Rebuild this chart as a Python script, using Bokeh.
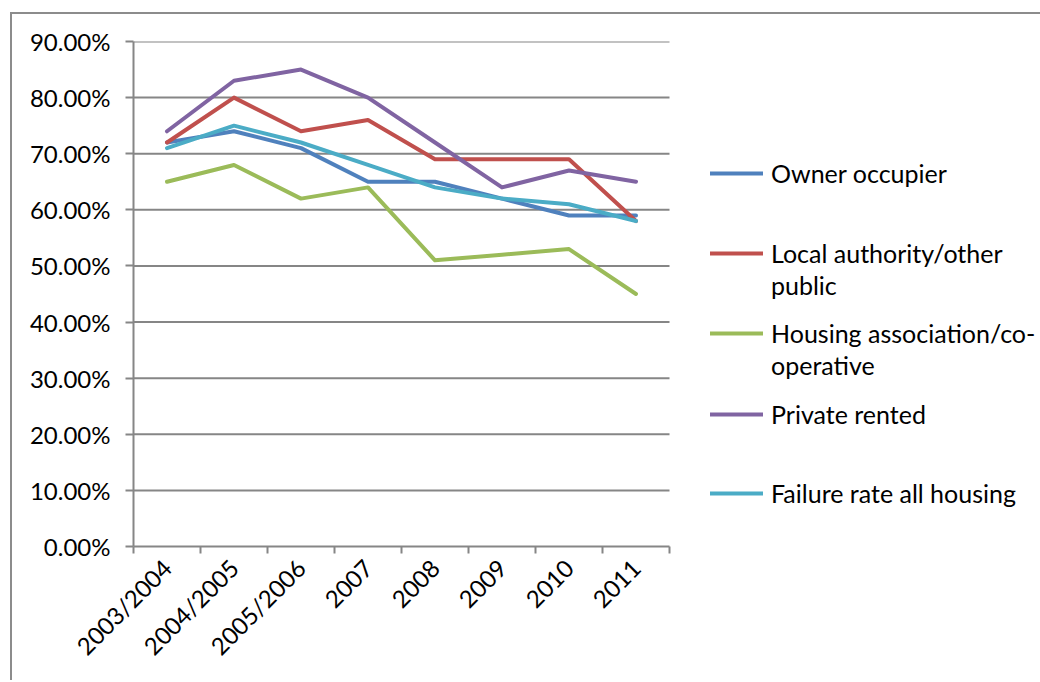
from bokeh.plotting import figure
from bokeh.models import Range1d, FixedTicker, NumeralTickFormatter, Legend, LegendItem
from bokeh.embed import file_html
from bokeh.resources import INLINE
import math

categories = ["2003/2004", "2004/2005", "2005/2006", "2007", "2008", "2009", "2010", "2011"]
owner_occupier = [0.72, 0.74, 0.71, 0.65, 0.65, 0.62, 0.59, 0.59]
local_authority = [0.72, 0.80, 0.74, 0.76, 0.69, 0.69, 0.69, 0.58]
housing_assoc = [0.65, 0.68, 0.62, 0.64, 0.51, 0.52, 0.53, 0.45]
private_rented = [0.74, 0.83, 0.85, 0.80, 0.72, 0.64, 0.67, 0.65]
failure_all = [0.71, 0.75, 0.72, 0.68, 0.64, 0.62, 0.61, 0.58]
y_ticks = [0.0, 0.1, 0.2, 0.3, 0.4, 0.5, 0.6, 0.7, 0.8, 0.9]

series_names = ["Owner occupier", "Local authority/other public",
                "Housing association/co-operative", "Private rented",
                "Failure rate all housing"]
series_values = [owner_occupier, local_authority, housing_assoc, private_rented, failure_all]
series_colors = ["#4F81BD", "#C0504D", "#9BBB59", "#8064A2", "#4BACC6"]

FONT = "Lato"
FS = "24px"
LEG_FS = "25px"
GRAY = "#868686"

n = len(categories)
xs = [i + 0.5 for i in range(n)]

# canvas begins at about (12, 16) on the page because of the CSS border below
LEFT, TOP = 12, 16
FRAME_L, FRAME_T, FRAME_B = 133, 43, 548
PX_PER_CAT = 67
frame_w = 1040 - FRAME_L
frame_h = FRAME_B - FRAME_T

p = figure(frame_width=frame_w, frame_height=frame_h, output_backend="svg",
           toolbar_location=None,
           x_range=Range1d(0, frame_w / PX_PER_CAT), y_range=Range1d(0, 0.9),
           min_border_left=FRAME_L - LEFT, min_border_right=0,
           min_border_top=FRAME_T - TOP, min_border_bottom=134)
p.styles = {"margin-left": "10px", "margin-top": "12px",
            "border-left": "2px solid #8c8c8c", "border-top": "2px solid #8c8c8c"}
p.outline_line_color = None
p.background_fill_color = "white"
p.border_fill_color = "white"
p.xgrid.visible = False
p.ygrid.visible = False

# horizontal gridlines across the category area only
p.segment(x0=[0] * (len(y_ticks) - 1), x1=[n] * (len(y_ticks) - 1),
          y0=y_ticks[1:], y1=y_ticks[1:], line_color=GRAY, line_width=2)

p.yaxis.ticker = FixedTicker(ticks=y_ticks)
p.yaxis.formatter = NumeralTickFormatter(format="0.00%")
p.yaxis.axis_line_color = GRAY
p.yaxis.axis_line_width = 2
p.yaxis.major_tick_line_color = GRAY
p.yaxis.major_tick_line_width = 2
p.yaxis.major_tick_out = 8
p.yaxis.major_tick_in = 0
p.yaxis.minor_tick_line_color = None
p.yaxis.major_label_standoff = 15
p.yaxis.major_label_text_font = FONT
p.yaxis.major_label_text_font_size = FS
p.yaxis.major_label_text_color = "black"

p.xaxis.bounds = (0, n)
p.xaxis.ticker = FixedTicker(ticks=xs, minor_ticks=list(range(n + 1)))
p.xaxis.major_label_overrides = {x: c for x, c in zip(xs, categories)}
p.xaxis.axis_line_color = GRAY
p.xaxis.axis_line_width = 2
p.xaxis.major_tick_line_color = None
p.xaxis.major_tick_out = 0
p.xaxis.major_tick_in = 0
p.xaxis.minor_tick_line_color = GRAY
p.xaxis.minor_tick_line_width = 2
p.xaxis.minor_tick_out = 7
p.xaxis.minor_tick_in = 0
p.xaxis.major_label_orientation = math.pi / 4
p.xaxis.major_label_standoff = 10
p.xaxis.major_label_text_font = FONT
p.xaxis.major_label_text_font_size = FS
p.xaxis.major_label_text_color = "black"

renderers = []
for name, vals, color in zip(series_names, series_values, series_colors):
    r = p.line(xs, vals, line_color=color, line_width=4, line_join="round", line_cap="round")
    renderers.append(r)

blank = p.line([], [], line_alpha=0)

def add_legend(label, renderer, center_y_page):
    h = 40
    vy = (FRAME_B - center_y_page) - h / 2
    lg = Legend(items=[LegendItem(label=label, renderers=[renderer])],
                location=(710 - FRAME_L, vy), padding=0, spacing=0, margin=0,
                glyph_width=53, glyph_height=h, label_height=h, label_standoff=8,
                label_text_font=FONT, label_text_font_size=LEG_FS, label_text_color="black",
                border_line_color=None, background_fill_alpha=0)
    p.add_layout(lg, "center")

add_legend("Owner occupier", renderers[0], 175)
add_legend("Local authority/other", renderers[1], 255)
add_legend("public", blank, 287)
add_legend("Housing association/co-", renderers[2], 335)
add_legend("operative", blank, 367)
add_legend("Private rented", renderers[3], 416)
add_legend("Failure rate all housing", renderers[4], 495)

open("out.html", "w").write(file_html(p, INLINE))
